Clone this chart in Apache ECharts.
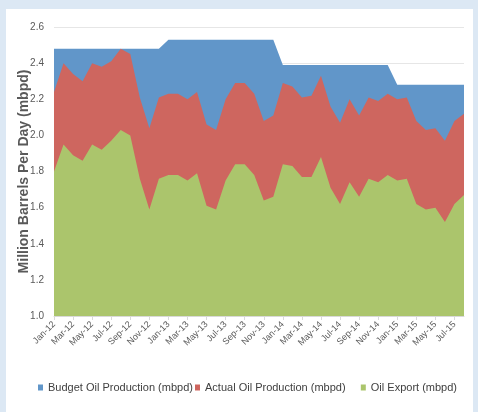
<!DOCTYPE html>
<html>
<head>
<meta charset="utf-8">
<script src="https://cdn.jsdelivr.net/npm/echarts@6/dist/echarts.min.js"></script>
<style>
html, body {
  margin: 0;
  padding: 0;
  background: #dce8f4;
}
#panel {
  position: absolute;
  left: 6px;
  top: 9px;
  width: 467px;
  height: 403px;
  background: #ffffff;
}
#main {
  position: absolute;
  left: 0;
  top: 0;
  width: 478px;
  height: 412px;
}
</style>
</head>
<body>
<div id="panel"></div>
<div id="main"></div>
<script>
// months Jan-12 .. Aug-15
const months = [
  "Jan-12", "Feb-12", "Mar-12", "Apr-12", "May-12", "Jun-12", "Jul-12", "Aug-12", "Sep-12", "Oct-12", "Nov-12", "Dec-12",
  "Jan-13", "Feb-13", "Mar-13", "Apr-13", "May-13", "Jun-13", "Jul-13", "Aug-13", "Sep-13", "Oct-13", "Nov-13", "Dec-13",
  "Jan-14", "Feb-14", "Mar-14", "Apr-14", "May-14", "Jun-14", "Jul-14", "Aug-14", "Sep-14", "Oct-14", "Nov-14", "Dec-14",
  "Jan-15", "Feb-15", "Mar-15", "Apr-15", "May-15", "Jun-15", "Jul-15", "Aug-15",
];

const budget = [
  2.48, 2.48, 2.48, 2.48, 2.48, 2.48, 2.48, 2.48, 2.48, 2.48, 2.48, 2.48,
  2.53, 2.53, 2.53, 2.53, 2.53, 2.53, 2.53, 2.53, 2.53, 2.53, 2.53, 2.53,
  2.39, 2.39, 2.39, 2.39, 2.39, 2.39, 2.39, 2.39, 2.39, 2.39, 2.39, 2.39,
  2.28, 2.28, 2.28, 2.28, 2.28, 2.28, 2.28, 2.28,
];

const actual = [
  2.24, 2.40, 2.34, 2.30, 2.40, 2.38, 2.41, 2.48, 2.45, 2.21, 2.04, 2.21,
  2.23, 2.23, 2.20, 2.24, 2.06, 2.03, 2.20, 2.29, 2.29, 2.23, 2.08, 2.11,
  2.29, 2.27, 2.21, 2.22, 2.33, 2.16, 2.07, 2.20, 2.11, 2.21, 2.19, 2.23,
  2.20, 2.21, 2.08, 2.03, 2.04, 1.97, 2.08, 2.12,
];

const exportOil = [
  1.80, 1.95, 1.89, 1.86, 1.95, 1.92, 1.97, 2.03, 2.00, 1.76, 1.59, 1.76,
  1.78, 1.78, 1.75, 1.79, 1.61, 1.59, 1.75, 1.84, 1.84, 1.78, 1.64, 1.66,
  1.84, 1.83, 1.77, 1.77, 1.88, 1.71, 1.62, 1.74, 1.66, 1.76, 1.74, 1.78,
  1.75, 1.76, 1.62, 1.59, 1.60, 1.52, 1.62, 1.67,
];

const names = [
  "Budget Oil Production (mbpd)",
  "Actual Oil Production (mbpd)",
  "Oil Export (mbpd)",
];
const colors = ["#6196c9", "#ce665f", "#abc56c"];

const sans = "'Liberation Sans', Arial, sans-serif";

function areaSeries(name, data, color) {
  return {
    name: name,
    type: "line",
    data: data,
    symbol: "none",
    lineStyle: { width: 0 },
    itemStyle: { color: color },
    areaStyle: { color: color, opacity: 1, origin: "start" },
    silent: true,
  };
}

function legendItem(name, pos) {
  return Object.assign({
    data: [name],
    top: 377,
    icon: "rect",
    itemWidth: 5,
    itemHeight: 6,
    textStyle: { fontFamily: sans, fontSize: 11, color: "#404040" },
  }, pos);
}

let myChart = echarts.init(document.getElementById("main"));
myChart.setOption({
  animation: false,
  backgroundColor: "transparent",
  grid: { left: 54, right: 14, top: 27, bottom: 96 },
  legend: [
    legendItem(names[0], { left: 33 }),
    legendItem(names[1], { left: 190 }),
    legendItem(names[2], { right: 16 }),
  ],
  xAxis: {
    type: "category",
    data: months,
    boundaryGap: false,
    axisLine: { lineStyle: { color: "#d9d9d9" } },
    axisTick: { interval: 1, length: 4, lineStyle: { color: "#d9d9d9" } },
    axisLabel: {
      interval: 1,
      rotate: 45,
      margin: 7,
      fontFamily: sans,
      fontSize: 9,
      color: "#595959",
    },
  },
  yAxis: {
    type: "value",
    min: 1.0,
    max: 2.6,
    interval: 0.2,
    name: "Million Barrels Per Day (mbpd)",
    nameLocation: "middle",
    nameGap: 23,
    nameMoveOverlap: false,
    nameTextStyle: {
      fontFamily: sans,
      fontWeight: "bold",
      fontSize: 14,
      color: "#595959",
    },
    axisLabel: {
      margin: 10,
      fontFamily: sans,
      fontSize: 10,
      color: "#595959",
      formatter: (v) => v.toFixed(1),
    },
    splitLine: { lineStyle: { color: "#e6e6e6" } },
  },
  series: [
    areaSeries(names[0], budget, colors[0]),
    areaSeries(names[1], actual, colors[1]),
    areaSeries(names[2], exportOil, colors[2]),
  ],
});
</script>
</body>
</html>
